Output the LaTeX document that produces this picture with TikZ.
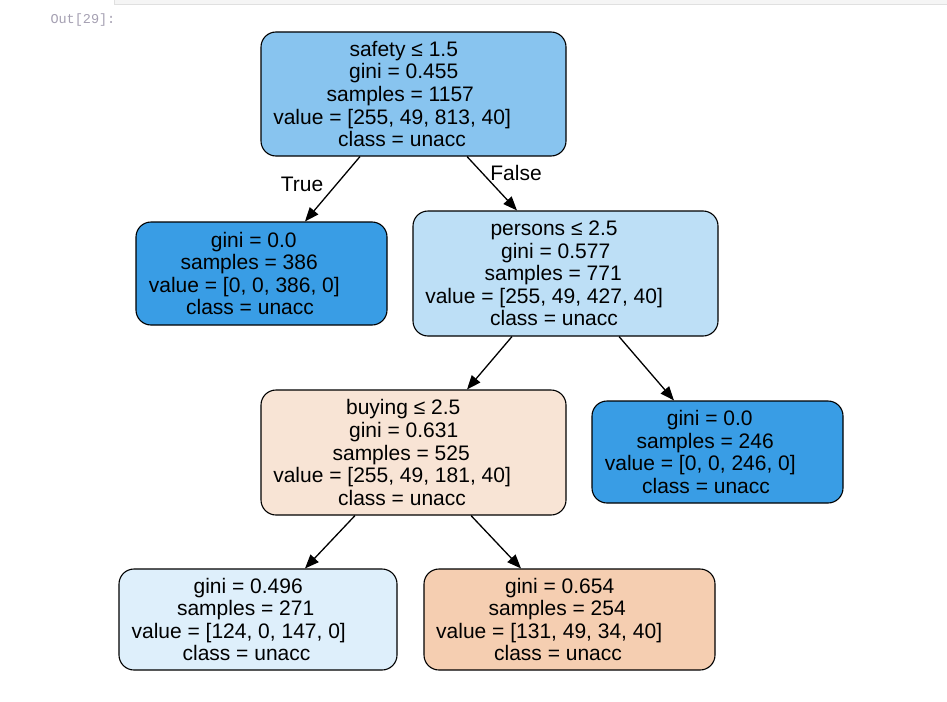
\documentclass[tikz,border=0pt]{standalone}
\usepackage{fontspec}
\setmainfont{Liberation Sans}
\newfontfamily\promptfont{Liberation Mono}
\usetikzlibrary{arrows.meta}
\definecolor{rootblue}{RGB}{136,196,239}
\definecolor{pureblue}{RGB}{57,157,229}
\definecolor{paleblue}{RGB}{189,223,246}
\definecolor{iceblue}{RGB}{222,239,251}
\definecolor{paleorange}{RGB}{248,228,213}
\definecolor{peach}{RGB}{245,206,177}
\definecolor{promptgray}{RGB}{165,160,178}
% each label line is set left-aligned in a slot 18% wider than the text
\newcommand{\tline}[1]{\makebox[1.18\width][l]{#1}}
\begin{document}
\begin{tikzpicture}[x=1pt,y=-1pt,
  treenode/.style={draw=black, line width=1.1pt, rounded corners=15pt,
    inner sep=0pt, align=center, anchor=center,
    font=\fontsize{21}{22.6}\selectfont},
  edge/.style={line width=1.3pt, -{Triangle[length=14pt,width=11pt]}},
  edgelabel/.style={font=\fontsize{21}{22.6}\selectfont}]
\useasboundingbox (0,0) rectangle (947,701);
% notebook cell strip and output prompt
\draw[fill=black!4, draw=black!12] (114,-2) rectangle (949,4);
\node[font=\promptfont\fontsize{13.5}{15}\selectfont, text=promptgray, anchor=west] (prompt) at (47,20) {Out[29]:};
% tree nodes
\node[treenode, fill=rootblue, minimum width=305pt, minimum height=124pt] (root) at (413.5,94)
  {\tline{safety ≤ 1.5}\\\tline{gini = 0.455}\\\tline{samples = 1157}\\\tline{value = [255, 49, 813, 40]}\\\tline{class = unacc}};
\node[treenode, fill=pureblue, minimum width=251pt, minimum height=103pt] (left) at (261.5,273.5)
  {\tline{gini = 0.0}\\\tline{samples = 386}\\\tline{value = [0, 0, 386, 0]}\\\tline{class = unacc}};
\node[treenode, fill=paleblue, minimum width=305pt, minimum height=125pt] (persons) at (565.5,273.5)
  {\tline{persons ≤ 2.5}\\\tline{gini = 0.577}\\\tline{samples = 771}\\\tline{value = [255, 49, 427, 40]}\\\tline{class = unacc}};
\node[treenode, fill=paleorange, minimum width=305pt, minimum height=125pt] (buying) at (413.5,452.5)
  {\tline{buying ≤ 2.5}\\\tline{gini = 0.631}\\\tline{samples = 525}\\\tline{value = [255, 49, 181, 40]}\\\tline{class = unacc}};
\node[treenode, fill=pureblue, minimum width=251pt, minimum height=102pt] (right) at (717.5,452)
  {\tline{gini = 0.0}\\\tline{samples = 246}\\\tline{value = [0, 0, 246, 0]}\\\tline{class = unacc}};
\node[treenode, fill=iceblue, minimum width=278pt, minimum height=101pt] (bl) at (258,619.5)
  {\tline{gini = 0.496}\\\tline{samples = 271}\\\tline{value = [124, 0, 147, 0]}\\\tline{class = unacc}};
\node[treenode, fill=peach, minimum width=291pt, minimum height=101pt] (br) at (569.5,619.5)
  {\tline{gini = 0.654}\\\tline{samples = 254}\\\tline{value = [131, 49, 34, 40]}\\\tline{class = unacc}};
% connectors
\draw[edge] ([xshift=-53.5pt]root.south) -- ([xshift=43.5pt]left.north);
\draw[edge] ([xshift=53.5pt]root.south) -- ([xshift=-48.5pt]persons.north);
\draw[edge] ([xshift=-53.5pt]persons.south) -- ([xshift=53.5pt]buying.north);
\draw[edge] ([xshift=53.5pt]persons.south) -- ([xshift=-43.5pt]right.north);
\draw[edge] ([xshift=-58.5pt]buying.south) -- ([xshift=47pt]bl.north);
\draw[edge] ([xshift=57.5pt]buying.south) -- ([xshift=-48.5pt]br.north);
% branch labels
\node[edgelabel] (truelbl) at (302,184) {True};
\node[edgelabel] (falselbl) at (516,173) {False};
\end{tikzpicture}
\end{document}
